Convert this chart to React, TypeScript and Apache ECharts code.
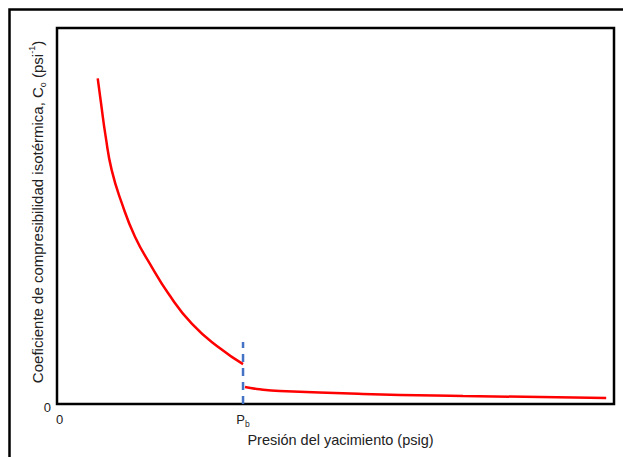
import React, { useEffect, useRef } from "react";
import * as echarts from "echarts";

const PB = 33.4;
const curveAbove: [number, number][] = [
  [7.31, 86.6],
  [7.9, 80.05],
  [8.74, 71.1],
  [9.82, 62.2],
  [11.62, 53.5],
  [14.0, 44.5],
  [17.0, 36.5],
  [19.93, 29.5],
  [24.24, 21.3],
  [29.26, 14.8],
  [33.4, 10.6],
];
const curveBelow: [number, number][] = [
  [33.75, 4.5],
  [36.4, 3.9],
  [40.0, 3.45],
  [54.9, 2.66],
  [72.9, 2.13],
  [98.6, 1.6],
];
const pbLine: [number, number][] = [
  [PB, 0],
  [PB, 16.5],
];
const xTickValues = [0, PB];
const yTickValues = [0];

export default function App() {
  const ref = useRef<HTMLDivElement>(null);
  useEffect(() => {
    document.body.style.margin = "0";
    const chart = echarts.init(ref.current!, null, { renderer: "svg" });
    const font = "'Liberation Sans', Arial, sans-serif";
    const col = "#222";
    chart.setOption({
      animation: false,
      backgroundColor: "#fff",
      grid: {
        left: 57,
        right: 9,
        top: 28,
        bottom: 53,
        show: true,
        borderColor: "#000",
        borderWidth: 2.5,
        backgroundColor: "transparent",
      },
      xAxis: {
        type: "value",
        min: 0,
        max: 100,
        splitLine: { show: false },
        axisLine: { show: false },
        axisTick: { show: false },
        axisLabel: {
          customValues: xTickValues,
          margin: 6,
          color: col,
          fontFamily: font,
          fontSize: 13,
          formatter: (v: number) => (v === 0 ? "{z|0}" : "{p|P}{s|b}"),
          rich: {
            z: { fontSize: 13, fontFamily: font, color: col, lineHeight: 18, padding: [0, 0, 0, 5] },
            p: { fontSize: 13, fontFamily: font, color: col, lineHeight: 18 },
            s: { fontSize: 8.5, fontFamily: font, color: col, verticalAlign: "bottom", lineHeight: 18 },
          },
        },
        name: "Presión del yacimiento (psig)",
        nameLocation: "middle",
        nameGap: 27,
        nameTextStyle: { color: col, fontFamily: font, fontSize: 14.5, padding: [0, 0, 0, 10] },
      },
      yAxis: {
        type: "value",
        min: 0,
        max: 100,
        splitLine: { show: false },
        axisLine: { show: false },
        axisTick: { show: false },
        axisLabel: {
          customValues: yTickValues,
          margin: 6,
          color: col,
          fontFamily: font,
          fontSize: 13,
          formatter: () => "{z|0}",
          rich: { z: { fontSize: 13, fontFamily: font, color: col, padding: [6, 0, 0, 0] } },
        },
      },
      series: [
        {
          type: "line",
          data: curveAbove,
          smooth: 0.5,
          showSymbol: false,
          lineStyle: { color: "#ff0000", width: 2.5 },
        },
        {
          type: "line",
          data: curveBelow,
          smooth: 0.5,
          showSymbol: false,
          lineStyle: { color: "#ff0000", width: 2.5 },
        },
        {
          type: "line",
          data: pbLine,
          showSymbol: false,
          lineStyle: { color: "#4472c4", width: 2.5, type: [8, 6] },
          z: 1,
        },
      ],
      graphic: [
        {
          type: "rect",
          shape: { x: 9.5, y: 9.5, width: 800, height: 700 },
          style: { fill: "none", stroke: "#000", lineWidth: 2.5 },
          silent: true,
        },
        {
          type: "text",
          x: 37,
          y: 212,
          rotation: Math.PI / 2,
          silent: true,
          style: {
            text: "{t|Coeficiente de compresibilidad isotérmica, C}{sub|o}{t| (psi}{sup|-1}{t|)}",
            align: "center",
            verticalAlign: "middle",
            rich: {
              t: { fontSize: 15, fontFamily: font, fill: col, lineHeight: 20 },
              sub: { fontSize: 9, fontFamily: font, fill: col, verticalAlign: "bottom", lineHeight: 20 },
              sup: { fontSize: 9, fontFamily: font, fill: col, verticalAlign: "top", lineHeight: 20 },
            },
          },
        },
      ],
    });
    return () => chart.dispose();
  }, []);
  return <div ref={ref} style={{ width: 623, height: 457 }} />;
}
